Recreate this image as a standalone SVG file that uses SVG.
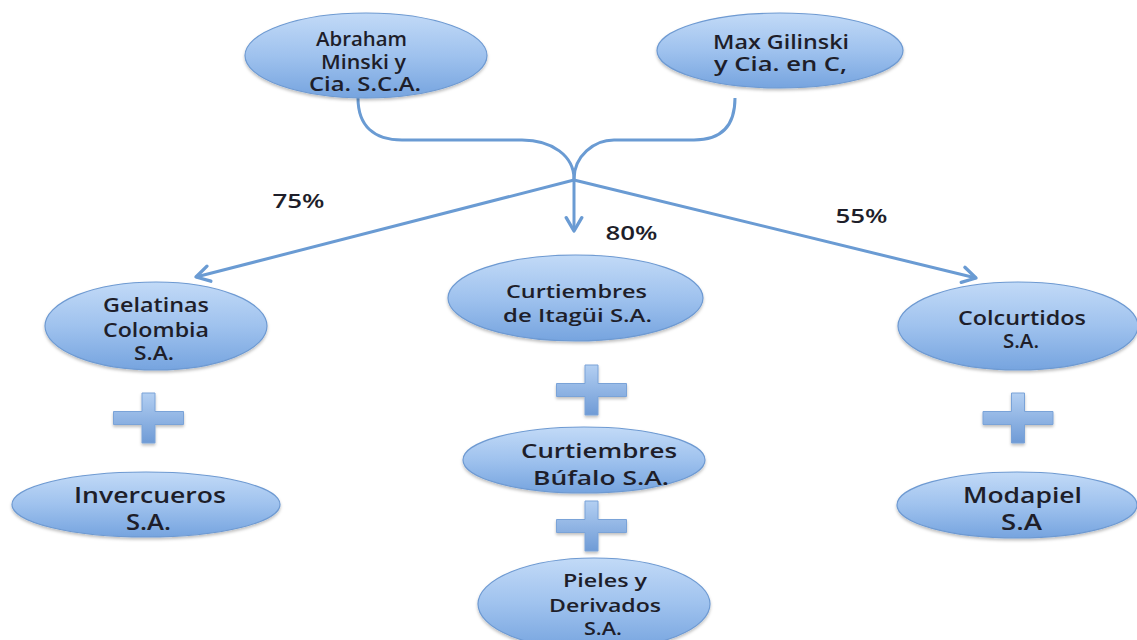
<svg xmlns="http://www.w3.org/2000/svg" xmlns:xlink="http://www.w3.org/1999/xlink" width="1137" height="640" viewBox="0 0 1137 640">
<defs>
<linearGradient id="gNode" x1="0" y1="0" x2="0" y2="1">
<stop offset="0" stop-color="#c2daf7"/>
<stop offset="0.5" stop-color="#9fc2ee"/>
<stop offset="1" stop-color="#76a4df"/>
</linearGradient>
<linearGradient id="gCross" x1="0" y1="0" x2="0" y2="1">
<stop offset="0" stop-color="#b3cff2"/>
<stop offset="1" stop-color="#6f9bd6"/>
</linearGradient>
<filter id="sh" x="-10%" y="-10%" width="120%" height="130%">
<feDropShadow dx="0" dy="2" stdDeviation="1.5" flood-color="#000" flood-opacity="0.25"/>
</filter>
<marker id="arr" markerUnits="userSpaceOnUse" markerWidth="20" markerHeight="20" viewBox="-14 -9 16 18" refX="0" refY="0" orient="auto">
<path d="M-12,-7 L0,0 L-12,7" fill="none" stroke="#6a9bd3" stroke-width="3" stroke-linecap="round" stroke-linejoin="round"/>
</marker>
<path id="cross" d="M-6.5,-25 H6.5 V-6.5 H35 V6.5 H6.5 V25 H-6.5 V6.5 H-35 V-6.5 H-6.5 Z"/>
</defs>
<style>
.node ellipse{fill:url(#gNode);stroke:#6e9ad2;stroke-width:1.2;filter:url(#sh)}
.t{font-family:"Open Sans","Liberation Sans",sans-serif;font-weight:600;fill:#1e1e2a;text-anchor:middle}
.conn path{fill:none;stroke:#6a9bd3;stroke-width:3}
.plus use{fill:url(#gCross);stroke:#7aa3d8;stroke-width:1;filter:url(#sh)}
</style>
<rect width="1137" height="640" fill="#ffffff"/>

<g id="connectors" class="conn">
<path d="M358,98 C358,126 374,140 402,140 L522,140 C552,140 574,156 574,179"/>
<path d="M735,98 C735,126 721,140 694,140 L614,140 C594,140 574,156 574,179"/>
<path d="M574,179 L574,231" marker-end="url(#arr)"/>
<path d="M574,180 L196,277" marker-end="url(#arr)"/>
<path d="M574,180 L976,278" marker-end="url(#arr)"/>
</g>

<g id="labels">
<text class="t" font-size="19" x="298.5" y="208" textLength="52" lengthAdjust="spacingAndGlyphs">75%</text>
<text class="t" font-size="19" x="631.5" y="240" textLength="52" lengthAdjust="spacingAndGlyphs">80%</text>
<text class="t" font-size="19" x="861.5" y="223" textLength="52" lengthAdjust="spacingAndGlyphs">55%</text>
</g>

<g id="n-abraham" class="node">
<ellipse cx="366" cy="55.5" rx="121" ry="42.5"/>
<text class="t" font-size="19" x="361.5" y="46" textLength="91" lengthAdjust="spacingAndGlyphs">Abraham</text>
<text class="t" font-size="19" x="363.5" y="69" textLength="85" lengthAdjust="spacingAndGlyphs">Minski y</text>
<text class="t" font-size="19" x="365" y="91" textLength="112" lengthAdjust="spacingAndGlyphs">Cia. S.C.A.</text>
</g>

<g id="n-max" class="node">
<ellipse cx="780" cy="50.5" rx="123" ry="37.5"/>
<text class="t" font-size="19" x="781" y="49" textLength="136" lengthAdjust="spacingAndGlyphs">Max Gilinski</text>
<text class="t" font-size="19" x="780.5" y="71" textLength="133" lengthAdjust="spacingAndGlyphs">y Cia. en C,</text>
</g>

<g id="n-gelatinas" class="node">
<ellipse cx="156" cy="326" rx="111" ry="44"/>
<text class="t" font-size="19" x="156" y="312" textLength="106" lengthAdjust="spacingAndGlyphs">Gelatinas</text>
<text class="t" font-size="19" x="156" y="337" textLength="106" lengthAdjust="spacingAndGlyphs">Colombia</text>
<text class="t" font-size="19" x="154" y="360" textLength="40" lengthAdjust="spacingAndGlyphs">S.A.</text>
</g>

<g id="n-invercueros" class="node">
<ellipse cx="146" cy="504.5" rx="134" ry="32.5"/>
<text class="t" font-size="21" x="150" y="503" textLength="152" lengthAdjust="spacingAndGlyphs">Invercueros</text>
<text class="t" font-size="21" x="148.5" y="530" textLength="45" lengthAdjust="spacingAndGlyphs">S.A.</text>
</g>

<g id="n-itagui" class="node">
<ellipse cx="575.5" cy="298" rx="127.5" ry="43"/>
<text class="t" font-size="18" x="576.5" y="298" textLength="141" lengthAdjust="spacingAndGlyphs">Curtiembres</text>
<text class="t" font-size="18" x="577.5" y="322" textLength="149" lengthAdjust="spacingAndGlyphs">de Itagüi S.A.</text>
</g>

<g id="n-bufalo" class="node">
<ellipse cx="584" cy="460" rx="121" ry="33"/>
<text class="t" font-size="20" x="599" y="458" textLength="156" lengthAdjust="spacingAndGlyphs">Curtiembres</text>
<text class="t" font-size="20" x="601" y="485" textLength="136" lengthAdjust="spacingAndGlyphs">Búfalo S.A.</text>
</g>

<g id="n-pieles" class="node">
<ellipse cx="594" cy="604" rx="116" ry="46"/>
<text class="t" font-size="18" x="605" y="587" textLength="84" lengthAdjust="spacingAndGlyphs">Pieles y</text>
<text class="t" font-size="18" x="605" y="612" textLength="112" lengthAdjust="spacingAndGlyphs">Derivados</text>
<text class="t" font-size="18" x="603" y="635" textLength="38" lengthAdjust="spacingAndGlyphs">S.A.</text>
</g>

<g id="n-colcurtidos" class="node">
<ellipse cx="1018" cy="326" rx="120" ry="44"/>
<text class="t" font-size="19" x="1022" y="325" textLength="128" lengthAdjust="spacingAndGlyphs">Colcurtidos</text>
<text class="t" font-size="19" x="1021" y="348" textLength="36" lengthAdjust="spacingAndGlyphs">S.A.</text>
</g>

<g id="n-modapiel" class="node">
<ellipse cx="1017" cy="505" rx="120" ry="33"/>
<text class="t" font-size="21" x="1022.5" y="503" textLength="119" lengthAdjust="spacingAndGlyphs">Modapiel</text>
<text class="t" font-size="21" x="1021.5" y="530" textLength="41" lengthAdjust="spacingAndGlyphs">S.A</text>
</g>

<g id="plus-signs" class="plus">
<use xlink:href="#cross" href="#cross" transform="translate(148.5,418)"/>
<use xlink:href="#cross" href="#cross" transform="translate(591.5,390)"/>
<use xlink:href="#cross" href="#cross" transform="translate(591.5,526)"/>
<use xlink:href="#cross" href="#cross" transform="translate(1018,418)"/>
</g>
</svg>
